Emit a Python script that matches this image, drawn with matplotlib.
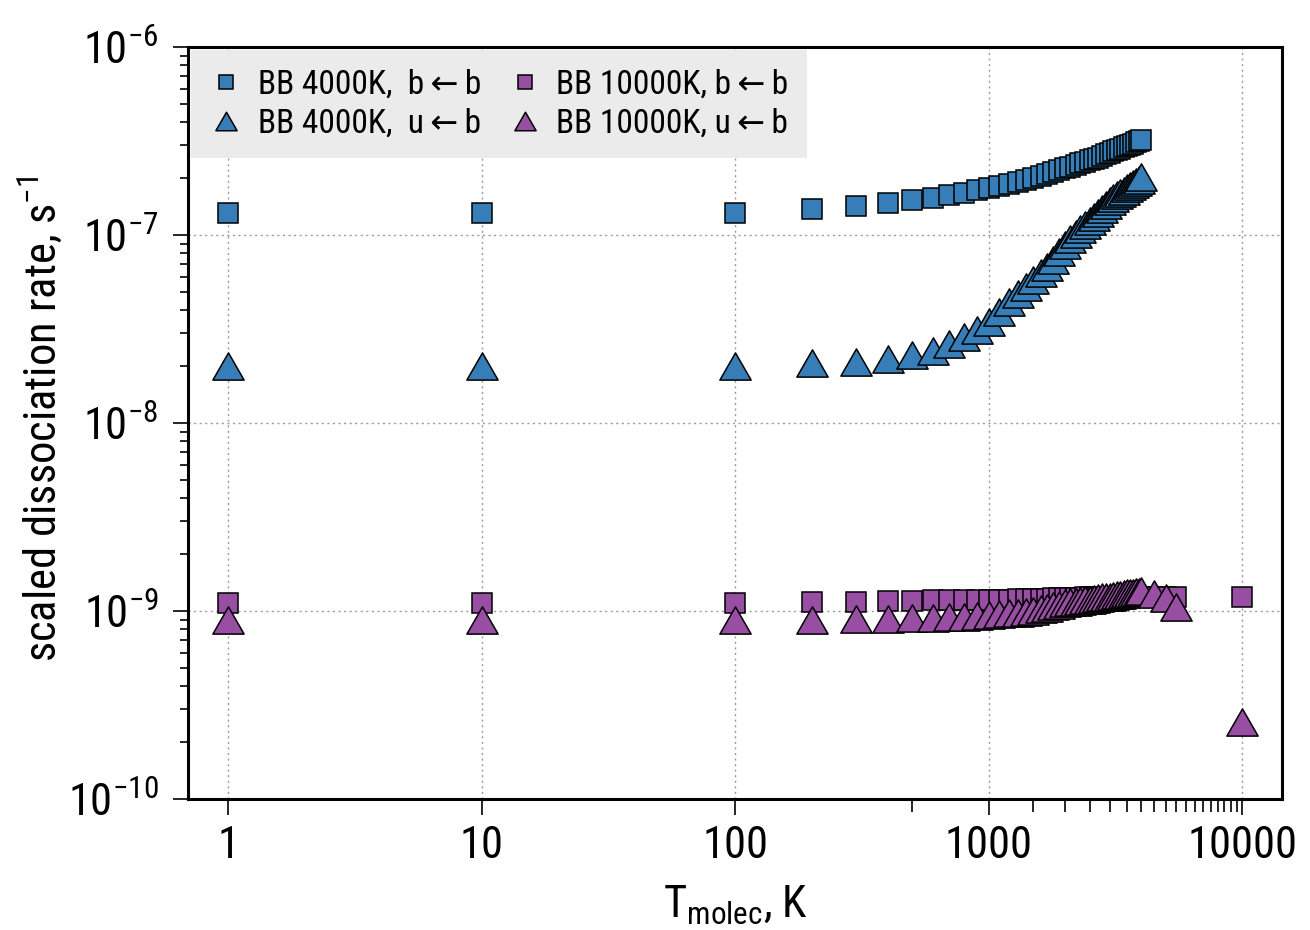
import numpy as np
import matplotlib
matplotlib.use("Agg")
import matplotlib.pyplot as plt
from matplotlib import font_manager
from matplotlib.ticker import FixedLocator, FuncFormatter, NullFormatter, LogLocator
from matplotlib.path import Path

# fuente estrecha tipo Helvetica Narrow, la primera que exista
_avail = {f.name for f in font_manager.fontManager.ttflist}
_pref = ["Liberation Sans Narrow", "Nimbus Sans Narrow", "Arial Narrow",
         "Roboto Condensed", "Archivo Narrow", "Liberation Sans"]
FONT = next((f for f in _pref if f in _avail), "DejaVu Sans")
plt.rcParams["font.family"] = [FONT, "DejaVu Sans"]
plt.rcParams["mathtext.default"] = "regular"
plt.rcParams["axes.unicode_minus"] = False

# temperaturas (K)
t_low = [1, 10]
t_grid = list(range(100, 4001, 100))
t_bb4000 = t_low + t_grid
t_bb10000 = t_low + t_grid + [4500, 5000, 5500, 10000]

# BB 4000K, b<-b  (x1e-7 s^-1)
bb4000_bb = [1.31, 1.31,
             1.31, 1.37, 1.43, 1.48, 1.54, 1.57, 1.63, 1.67, 1.73, 1.78,
             1.82, 1.87, 1.91, 1.96, 2.01, 2.06, 2.11, 2.16, 2.22, 2.27,
             2.31, 2.35, 2.40, 2.45, 2.50, 2.54, 2.58, 2.63, 2.68, 2.73,
             2.78, 2.83, 2.88, 2.92, 2.97, 3.02, 3.06, 3.11, 3.15, 3.20]
# BB 4000K, u<-b  (x1e-8 s^-1)
bb4000_ub = [2.00, 2.00,
             2.02, 2.08, 2.12, 2.19, 2.30, 2.42, 2.63, 2.87, 3.12, 3.45,
             3.89, 4.40, 4.86, 5.29, 5.76, 6.27, 6.75, 7.40, 8.10, 8.80,
             9.50, 10.1, 10.7, 11.3, 11.9, 12.5, 13.1, 13.8, 14.5, 15.2,
             15.8, 16.3, 16.8, 17.2, 17.7, 18.2, 18.7, 19.2, 19.7, 20.4]
# BB 10000K, b<-b  (x1e-9 s^-1)
bb10000_bb = [1.10, 1.10,
              1.10, 1.11, 1.12, 1.13, 1.13, 1.14, 1.14, 1.14, 1.15, 1.15,
              1.15, 1.15, 1.16, 1.16, 1.16, 1.16, 1.16, 1.17, 1.17, 1.17,
              1.17, 1.17, 1.17, 1.18, 1.18, 1.18, 1.18, 1.18, 1.18, 1.18,
              1.18, 1.18, 1.19, 1.19, 1.19, 1.19, 1.19, 1.19, 1.19, 1.19,
              1.19, 1.18, 1.18, 1.19]
# BB 10000K, u<-b  (x1e-9 s^-1)
bb10000_ub = [0.90, 0.90,
              0.90, 0.90, 0.905, 0.91, 0.915, 0.92, 0.925, 0.93, 0.94, 0.95,
              0.96, 0.97, 0.98, 0.99, 1.00, 1.02, 1.04, 1.06, 1.08, 1.10,
              1.11, 1.12, 1.13, 1.14, 1.15, 1.16, 1.17, 1.18, 1.185, 1.19,
              1.20, 1.21, 1.22, 1.23, 1.24, 1.245, 1.25, 1.26, 1.265, 1.27,
              1.23, 1.17, 1.05, 0.257]

labels = ["BB 4000K,  b\u2009\u2190\u2009b", "BB 4000K,  u\u2009\u2190\u2009b",
          "BB 10000K, b\u2009\u2190\u2009b", "BB 10000K, u\u2009\u2190\u2009b"]

x_major = [1, 10, 100, 1000, 10000]
x_minor = [500] + list(range(1500, 10000, 500))

BLUE = "#377eb8"
PURPLE = "#984ea3"

# triangulo algo mas ancho que alto
tri = Path([(0, 0.87), (-1, -0.87), (1, -0.87), (0, 0.87)],
           [Path.MOVETO, Path.LINETO, Path.LINETO, Path.CLOSEPOLY])

fig, ax = plt.subplots(figsize=(13.1, 9.3), dpi=100)
fig.subplots_adjust(left=0.1435, right=0.979, top=0.9495, bottom=0.1409)

kw = dict(linestyle="none", markeredgecolor="black", markeredgewidth=1.1)
ax.plot(t_bb4000, np.array(bb4000_bb) * 1e-7, marker="s", markersize=14.5,
        color=BLUE, label=labels[0], **kw)
ax.plot(t_bb4000, np.array(bb4000_ub) * 1e-8, marker=tri, markersize=22.5,
        color=BLUE, label=labels[1], **kw)
ax.plot(t_bb10000, np.array(bb10000_bb) * 1e-9, marker="s", markersize=14.5,
        color=PURPLE, label=labels[2], **kw)
ax.plot(t_bb10000, np.array(bb10000_ub) * 1e-9, marker=tri, markersize=22.5,
        color=PURPLE, label=labels[3], **kw)

ax.set_xscale("log")
ax.set_yscale("log")
ax.set_xlim(0.695, 14400)
ax.set_ylim(1e-10, 1e-6)

ax.xaxis.set_major_locator(FixedLocator(x_major))
ax.xaxis.set_minor_locator(FixedLocator(x_minor))
ax.xaxis.set_major_formatter(FuncFormatter(lambda v, p: f"{int(round(v))}"))
ax.xaxis.set_minor_formatter(NullFormatter())
ax.yaxis.set_major_locator(FixedLocator([1e-10, 1e-9, 1e-8, 1e-7, 1e-6]))
ax.yaxis.set_minor_locator(LogLocator(base=10, subs=np.arange(2, 10), numticks=20))
ax.yaxis.set_major_formatter(
    FuncFormatter(lambda v, p: r"$10^{-%d}$" % int(round(-np.log10(v)))))
ax.yaxis.set_minor_formatter(NullFormatter())

ax.tick_params(axis="both", which="both", direction="out", top=False, right=False,
               width=1.2, labelsize=32)
ax.tick_params(axis="x", which="major", length=11.5, pad=7)
ax.tick_params(axis="x", which="minor", length=9)
ax.tick_params(axis="y", which="major", length=11, pad=10)
ax.tick_params(axis="y", which="minor", length=6)

for s in ax.spines.values():
    s.set_linewidth(2.2)

ax.grid(True, which="major", linestyle=(0, (1.5, 2.5)), color="#9a9a9a", linewidth=1)
ax.set_axisbelow(True)

ax.set_xlabel(r"T$_{molec}$, K", fontsize=32, va="center")
ax.xaxis.set_label_coords(0.5, -0.141)
ax.set_ylabel(r"scaled dissociation rate, s$^{-1}$", fontsize=32, va="center")
ax.yaxis.set_label_coords(-0.135, 0.505)

leg = ax.legend(loc="upper left", bbox_to_anchor=(0.0, 1.0), ncol=2, fontsize=24,
                frameon=True, fancybox=False, borderaxespad=0.1, markerscale=0.68,
                handlelength=1.0, handletextpad=0.45, columnspacing=0.8,
                labelspacing=0.22, borderpad=0.55)
leg.get_frame().set_facecolor("#ebebeb")
leg.get_frame().set_edgecolor("none")
leg.get_frame().set_alpha(1.0)

fig.savefig("out.png", dpi=100)
